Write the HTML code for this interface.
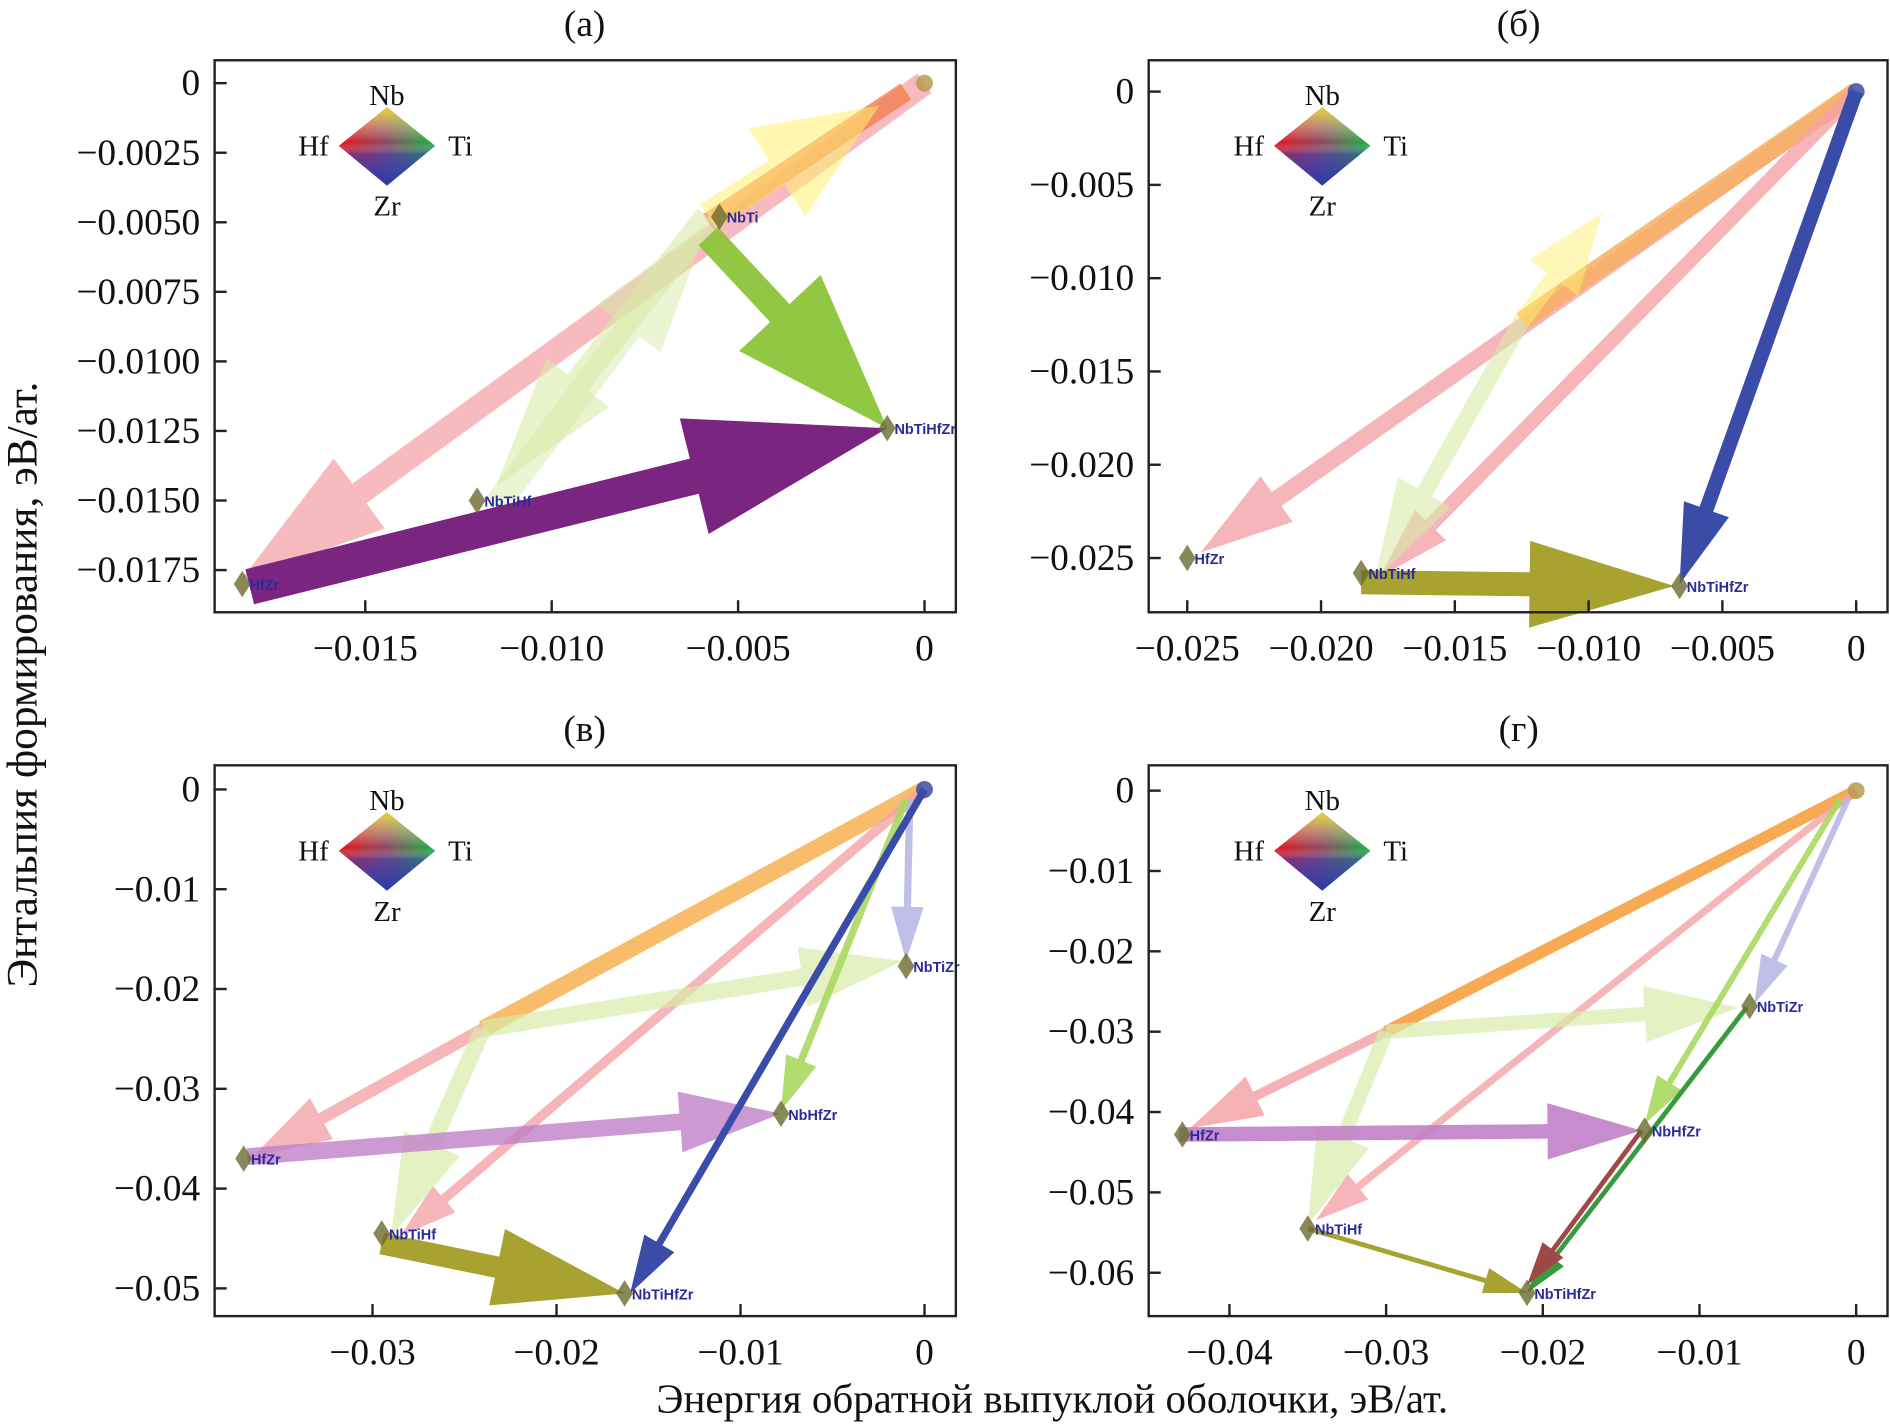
<!DOCTYPE html>
<html><head><meta charset="utf-8"><style>
html,body{margin:0;padding:0;background:#fff}
svg{display:block}
text{font-family:"Liberation Serif",serif;fill:#111}
.tick{font-size:31px}
.lbl{font-family:"Liberation Sans",sans-serif;font-size:12px;font-weight:bold;fill:#2a2a9a}
</style></head><body>
<svg id="chart" width="1890" height="1427" viewBox="0 0 1568 1184" xmlns="http://www.w3.org/2000/svg">
<defs>
<linearGradient id="gh" x1="0" y1="0" x2="1" y2="0"><stop offset="0" stop-color="#e8101a"/><stop offset="0.5" stop-color="#8a4a60"/><stop offset="1" stop-color="#18b040"/></linearGradient>
<linearGradient id="gv" x1="0" y1="0" x2="0" y2="1"><stop offset="0" stop-color="#f0e020" stop-opacity="0.9"/><stop offset="0.45" stop-color="#ffffff" stop-opacity="0"/><stop offset="0.6" stop-color="#3040c0" stop-opacity="0.5"/><stop offset="1" stop-color="#2a3aa8" stop-opacity="1"/></linearGradient>
</defs>
<g id="root"></g>
<text x="873" y="1172" text-anchor="middle" style="font-size:34px">Энергия обратной выпуклой оболочки, эВ/ат.</text>
<text transform="translate(30,568) rotate(-90)" text-anchor="middle" style="font-size:36px">Энтальпия формирования, эВ/ат.</text>
</svg>
<script>
// ---- data ----
const titles = ["(а)", "(б)", "(в)", "(г)"];
const xTicksA = [-0.015, -0.010, -0.005, 0];
const xTickLabelsA = ["−0.015", "−0.010", "−0.005", "0"];
const yTicksA = [0, -0.0025, -0.005, -0.0075, -0.01, -0.0125, -0.015, -0.0175];
const yTickLabelsA = ["0", "−0.0025", "−0.0050", "−0.0075", "−0.0100", "−0.0125", "−0.0150", "−0.0175"];
const xTicksB = [-0.025, -0.02, -0.015, -0.01, -0.005, 0];
const xTickLabelsB = ["−0.025", "−0.020", "−0.015", "−0.010", "−0.005", "0"];
const yTicksB = [0, -0.005, -0.01, -0.015, -0.02, -0.025];
const yTickLabelsB = ["0", "−0.005", "−0.010", "−0.015", "−0.020", "−0.025"];
const xTicksC = [-0.03, -0.02, -0.01, 0];
const xTickLabelsC = ["−0.03", "−0.02", "−0.01", "0"];
const yTicksC = [0, -0.01, -0.02, -0.03, -0.04, -0.05];
const yTickLabelsC = ["0", "−0.01", "−0.02", "−0.03", "−0.04", "−0.05"];
const xTicksD = [-0.04, -0.03, -0.02, -0.01, 0];
const xTickLabelsD = ["−0.04", "−0.03", "−0.02", "−0.01", "0"];
const yTicksD = [0, -0.01, -0.02, -0.03, -0.04, -0.05, -0.06];
const yTickLabelsD = ["0", "−0.01", "−0.02", "−0.03", "−0.04", "−0.05", "−0.06"];

// arrows: [x0, y0, x1, y1]
const arrowsA = [[0,0,-0.0183,-0.0178],[-0.0005,-0.0003,-0.0058,-0.005],[-0.0058,-0.0048,-0.0012,-0.0008],[-0.0058,-0.0048,-0.0115,-0.0145],[-0.0115,-0.0152,-0.0058,-0.005],[-0.0058,-0.0055,-0.001,-0.0124],[-0.0181,-0.0181,-0.001,-0.0124]];
const arrowColorsA = ["#f4a3a8","#f08050","#fff070","#d8eba8","#d8eba8","#8cc43a","#7a2680"];
const arrowAlphaA = [0.75,0.8,0.55,0.6,0.5,0.95,1];
const arrowSizeA = [20,16,24,22,22,22,30];
const headScaleA = [1.2,0,1.2,1,1,1.4,1.1];
const pointsA = [[-0.0055,-0.0048],[-0.012,-0.015],[-0.0183,-0.018],[-0.001,-0.0124]];
const pointLabelsA = ["NbTi","NbTiHf","HfZr","NbTiHfZr"];

const arrowsB = [[0,0,-0.0245,-0.0247],[0,0,-0.0125,-0.0123],[-0.0125,-0.0123,-0.0095,-0.0065],[0,0,-0.0178,-0.026],[-0.0125,-0.0123,-0.018,-0.0262],[-0.0185,-0.0263,-0.0068,-0.0265],[0,0,-0.0066,-0.0264]];
const arrowColorsB = ["#f4a3a8","#f7b060","#fff070","#f4a3a8","#d8eba8","#a8a230","#3a4ca8"];
const arrowAlphaB = [0.8,0.85,0.5,0.8,0.6,1,1];
const arrowSizeB = [14,16,14,12,14,20,12];
const headScaleB = [1.1,0,1.2,1,1.2,1.2,1.1];
const pointsB = [[-0.025,-0.025],[-0.0185,-0.0258],[-0.0066,-0.0265]];
const pointLabelsB = ["HfZr","NbTiHf","NbTiHfZr"];

const arrowsC = [[0,0,-0.024,-0.024],[-0.024,-0.024,-0.0365,-0.0368],[0,0,-0.0285,-0.0448],[-0.024,-0.024,-0.0012,-0.0172],[-0.024,-0.024,-0.029,-0.0448],[-0.0008,-0.001,-0.001,-0.0172],[-0.001,-0.001,-0.0078,-0.0322],[-0.0368,-0.0368,-0.0078,-0.0325],[0,0,-0.016,-0.0505],[-0.0295,-0.0455,-0.0163,-0.0505]];
const arrowColorsC = ["#f7b050","#f4a3a8","#f4a3a8","#d8eba8","#d8eba8","#b8b8e4","#a8d860","#c080c8","#3a4ca8","#a8a230"];
const arrowAlphaC = [0.85,0.8,0.8,0.7,0.7,0.9,0.9,0.8,1,1];
const arrowSizeC = [14,10,8,14,14,6,6,14,6,18];
const headScaleC = [0,1.3,1.2,1.2,1.2,1.5,1.5,1.2,1.6,1.2];
const pointsC = [[-0.037,-0.037],[-0.0295,-0.0445],[-0.001,-0.0177],[-0.0078,-0.0325],[-0.0163,-0.0505]];
const pointLabelsC = ["HfZr","NbTiHf","NbTiZr","NbHfZr","NbTiHfZr"];

const arrowsD = [[0,0,-0.030,-0.030],[-0.030,-0.030,-0.0425,-0.042],[0,0,-0.0345,-0.0535],[-0.030,-0.030,-0.0075,-0.027],[-0.030,-0.030,-0.035,-0.054],[-0.0005,-0.001,-0.0065,-0.0265],[-0.001,-0.001,-0.0135,-0.0415],[-0.0432,-0.0428,-0.0137,-0.0423],[-0.007,-0.027,-0.021,-0.0625],[-0.0137,-0.0423,-0.021,-0.0615],[-0.035,-0.0545,-0.021,-0.0625]];
const arrowColorsD = ["#f7a040","#f4a3a8","#f4a3a8","#d8eba8","#d8eba8","#b8b8e4","#a8d860","#c080c8","#3a9a40","#a04848","#a8a230"];
const arrowAlphaD = [0.9,0.85,0.8,0.7,0.7,0.9,0.9,0.9,1,1,1];
const arrowSizeD = [10,8,6,12,12,5,5,12,4,4,4];
const headScaleD = [0,1.5,1.5,1.3,1.3,1.6,1.6,1.3,1.8,1.8,1.8];
const pointsD = [[-0.043,-0.0428],[-0.035,-0.0545],[-0.0068,-0.0268],[-0.0135,-0.0423],[-0.021,-0.0625]];
const pointLabelsD = ["HfZr","NbTiHf","NbTiZr","NbHfZr","NbTiHfZr"];

// ---- layout ----
const NS = "http://www.w3.org/2000/svg";
const root = document.getElementById("root");
function el(tag, attrs, parent) {
  const e = document.createElementNS(NS, tag);
  for (const k in attrs) e.setAttribute(k, attrs[k]);
  (parent || root).appendChild(e);
  return e;
}
function lin(d0, d1, p0, p1) { return v => p0 + (v - d0) * (p1 - p0) / (d1 - d0); }

const panels = [
  {frame:[178,50,793,508], xs:lin(-0.015,0,303,767), ys:lin(0,-0.0175,69,473), xt:xTicksA, xl:xTickLabelsA, yt:yTicksA, yl:yTickLabelsA, ar:arrowsA, ac:arrowColorsA, aa:arrowAlphaA, sz:arrowSizeA, hs:headScaleA, pts:pointsA, pl:pointLabelsA, title:[485,18], leg:[321,121]},
  {frame:[953,50,1566,508], xs:lin(-0.025,0,985,1540), ys:lin(0,-0.025,76,463), xt:xTicksB, xl:xTickLabelsB, yt:yTicksB, yl:yTickLabelsB, ar:arrowsB, ac:arrowColorsB, aa:arrowAlphaB, sz:arrowSizeB, hs:headScaleB, pts:pointsB, pl:pointLabelsB, title:[1260,18], leg:[1097,121]},
  {frame:[178,635,793,1092], xs:lin(-0.03,0,309,767), ys:lin(0,-0.05,655,1069), xt:xTicksC, xl:xTickLabelsC, yt:yTicksC, yl:yTickLabelsC, ar:arrowsC, ac:arrowColorsC, aa:arrowAlphaC, sz:arrowSizeC, hs:headScaleC, pts:pointsC, pl:pointLabelsC, title:[485,603], leg:[321,706]},
  {frame:[953,635,1566,1092], xs:lin(-0.04,0,1020,1540), ys:lin(0,-0.06,656,1056), xt:xTicksD, xl:xTickLabelsD, yt:yTicksD, yl:yTickLabelsD, ar:arrowsD, ac:arrowColorsD, aa:arrowAlphaD, sz:arrowSizeD, hs:headScaleD, pts:pointsD, pl:pointLabelsD, title:[1260,603], leg:[1097,706]}
];

function arrowPts(x0,y0,x1,y1,w,hs){
  const dx=x1-x0, dy=y1-y0, L=Math.hypot(dx,dy)||1;
  const ux=dx/L, uy=dy/L, nx=-uy, ny=ux;
  if (hs === 0) {
    const p=[[x0+nx*w/2,y0+ny*w/2],[x1+nx*w/2,y1+ny*w/2],[x1-nx*w/2,y1-ny*w/2],[x0-nx*w/2,y0-ny*w/2]];
    return p.map(q=>q[0].toFixed(1)+","+q[1].toFixed(1)).join(" ");
  }
  const hw=w*3.0*hs, hl=Math.min(w*5.0*hs, L*0.6);
  const bx=x1-ux*hl, by=y1-uy*hl;
  const p=[[x0+nx*w/2,y0+ny*w/2],[bx+nx*w/2,by+ny*w/2],[bx+nx*hw/2,by+ny*hw/2],[x1,y1],[bx-nx*hw/2,by-ny*hw/2],[bx-nx*w/2,by-ny*w/2],[x0-nx*w/2,y0-ny*w/2]];
  return p.map(q=>q[0].toFixed(1)+","+q[1].toFixed(1)).join(" ");
}

panels.forEach((P, i) => {
  const g = el("g", {});
  
  
  const [fx0,fy0,fx1,fy1] = P.frame;
  const t = el("text", {x:P.title[0], y:P.title[1]+12, "text-anchor":"middle", style:"font-size:31px"}, g);
  t.textContent = titles[i];
  
  
  P.ar.forEach((a, j) => {
    const pg = el("polygon", {points: arrowPts(P.xs(a[0]),P.ys(a[1]),P.xs(a[2]),P.ys(a[3]),P.sz[j],P.hs[j]), fill:P.ac[j], "fill-opacity":P.aa[j]}, g);
    
    
  });
  const o = el("circle", {cx:P.xs(0), cy:P.ys(0), r:7, fill: i===0||i===3 ? "#b89a50" : "#3a4ca8", "fill-opacity":0.85}, g);
  
  
  P.pts.forEach((p, j) => {
    const px=P.xs(p[0]), py=P.ys(p[1]);
    const m = el("polygon", {points:`${px},${py-11} ${px+7},${py} ${px},${py+11} ${px-7},${py}`, fill:"#6a6a30", "fill-opacity":0.8}, g);
    
    
    const lb = el("text", {x:px+6, y:py+5, class:"lbl"}, g);
    lb.textContent = P.pl[j];
    
    
  });
  const fr = el("rect", {x:fx0, y:fy0, width:fx1-fx0, height:fy1-fy0, fill:"none", stroke:"#222", "stroke-width":2}, g);
  
  
  P.xt.forEach((v, j) => {
    const x = P.xs(v);
    el("line", {x1:x, y1:fy1, x2:x, y2:fy1-10, stroke:"#222", "stroke-width":2}, g);
    const tx = el("text", {x:x, y:fy1+40, "text-anchor":"middle", class:"tick"}, g);
    tx.textContent = P.xl[j];
    
    
  });
  P.yt.forEach((v, j) => {
    const y = P.ys(v);
    el("line", {x1:fx0, y1:y, x2:fx0+10, y2:y, stroke:"#222", "stroke-width":2}, g);
    const ty = el("text", {x:fx0-12, y:y+10, "text-anchor":"end", class:"tick"}, g);
    ty.textContent = P.yl[j];
    
    
  });
  const [cx, cy] = P.leg;
  const lg = el("g", {}, g);
  
  
  const dpts = `${cx},${cy-32} ${cx+40},${cy} ${cx},${cy+33} ${cx-40},${cy}`;
  el("polygon", {points:dpts, fill:"url(#gh)"}, lg);
  el("polygon", {points:dpts, fill:"url(#gv)"}, lg);
  [["Nb",cx,cy-34],["Ti",cx+61,cy+8],["Hf",cx-61,cy+8],["Zr",cx,cy+58]].forEach(l => {
    const tt = el("text", {x:l[1], y:l[2], "text-anchor":"middle", style:"font-size:24px"}, lg);
    tt.textContent = l[0];
    
    
  });
});
</script>
</body></html>
